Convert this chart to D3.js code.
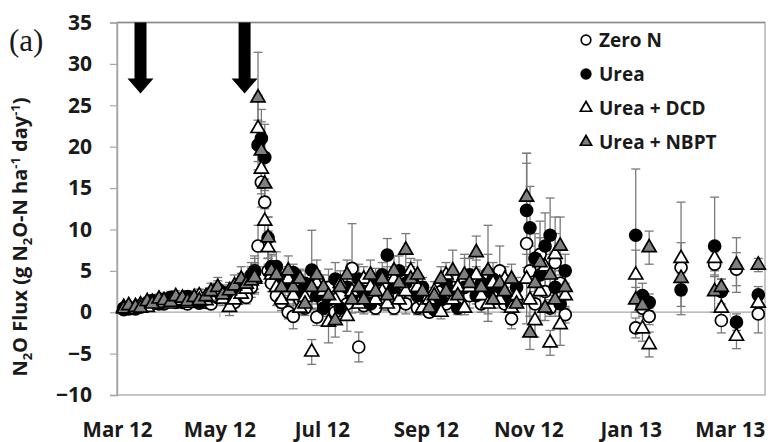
<!DOCTYPE html>
<html><head><meta charset="utf-8">
<script src="https://cdn.jsdelivr.net/npm/d3@7"></script>
<style>body{margin:0;background:#fff} svg{display:block}</style>
</head><body><svg id="c" width="773" height="442"></svg>
<script>
const dates = [
"2012-03-05","2012-03-08","2012-03-12","2012-03-15","2012-03-19","2012-03-22","2012-03-26","2012-03-29","2012-04-02","2012-04-05",
"2012-04-09","2012-04-12","2012-04-16","2012-04-19","2012-04-23","2012-04-26","2012-04-30","2012-05-03","2012-05-07","2012-05-10",
"2012-05-14","2012-05-17","2012-05-20","2012-05-22","2012-05-24","2012-05-26","2012-05-28","2012-05-30","2012-06-01","2012-06-04",
"2012-06-07","2012-06-11","2012-06-14","2012-06-18","2012-06-21","2012-06-25","2012-06-28","2012-07-02","2012-07-05","2012-07-09",
"2012-07-12","2012-07-16","2012-07-19","2012-07-23","2012-07-26","2012-07-30","2012-08-02","2012-08-06","2012-08-09","2012-08-13",
"2012-08-16","2012-08-20","2012-08-23","2012-08-27","2012-08-30","2012-09-03","2012-09-06","2012-09-10","2012-09-13","2012-09-17",
"2012-09-20","2012-09-24","2012-09-27","2012-10-01","2012-10-04","2012-10-08","2012-10-11","2012-10-15","2012-10-18","2012-10-22",
"2012-10-25","2012-10-31","2012-11-02","2012-11-05","2012-11-08","2012-11-11","2012-11-14","2012-11-17","2012-11-20","2012-11-23",
"2013-01-04","2013-01-08","2013-01-12","2013-01-31","2013-02-20","2013-02-24","2013-03-05","2013-03-18"];

const zeroN = [
0.3,0.4,0.5,0.6,0.8,1.0,1.2,1.0,1.3,1.5,
1.2,1.0,1.4,1.6,1.2,1.0,1.8,2.0,1.5,1.2,
2.5,1.8,3.0,5.0,8.0,15.7,13.3,5.0,3.5,2.0,
1.2,0.0,-0.5,1.5,0.5,2.5,-0.6,1.0,3.0,0.0,
2.0,1.0,5.3,-4.2,0.8,2.5,0.5,1.5,3.5,0.5,
2.0,1.0,3.0,0.5,1.5,0.0,0.8,2.5,1.0,3.0,
1.5,4.0,2.0,3.5,1.0,4.7,2.5,5.0,1.0,-0.8,
1.5,8.3,5.0,1.0,7.0,2.5,0.5,6.0,3.5,-0.3,
-1.9,0.5,-0.5,5.4,5.8,-1.0,5.2,-0.2];
const urea = [
0.5,0.6,0.4,0.8,1.1,1.4,1.0,1.6,1.8,1.2,
1.5,1.9,1.3,1.1,1.6,2.2,2.8,2.4,1.9,2.6,
3.5,3.0,4.5,4.8,20.2,21.0,18.7,9.0,5.5,5.5,
4.0,3.5,4.8,2.5,3.5,5.1,2.0,0.5,1.5,4.0,
0.5,3.0,2.0,4.0,2.5,1.0,3.8,4.5,6.9,3.0,
5.0,3.5,4.5,2.0,3.0,1.0,0.3,1.5,3.5,2.5,
0.5,3.0,4.5,2.0,3.5,2.5,4.0,3.0,2.0,1.0,
3.0,12.3,10.2,6.5,4.5,8.0,9.3,3.0,1.0,5.0,
9.3,2.0,1.2,2.7,8.0,2.5,-1.2,2.1];
const ureaDCD = [
0.6,0.3,0.7,0.9,0.6,1.2,1.5,1.1,1.0,1.7,
1.4,1.1,1.6,2.0,1.4,1.8,2.4,1.6,0.6,1.5,
2.2,2.8,4.0,4.0,22.2,17.3,11.0,7.8,4.5,3.0,
1.5,4.0,2.0,0.5,1.8,-4.8,3.5,2.5,-1.2,1.5,
3.5,-0.5,2.5,1.0,4.0,3.0,1.5,2.5,1.0,4.0,
1.5,2.5,5.0,3.0,0.5,1.5,2.5,0.0,4.5,1.5,
3.0,0.5,3.0,4.5,2.0,1.0,3.5,1.5,4.0,0.5,
2.0,4.0,1.5,-1.0,2.5,5.5,-3.7,7.0,-1.5,2.0,
4.5,-2.0,-3.9,6.5,6.5,0.5,-2.9,1.1];
const ureaNBPT = [
0.4,0.8,0.6,0.5,1.3,1.0,1.6,1.4,1.2,1.9,
1.7,1.3,1.8,1.4,1.9,2.5,3.0,2.1,2.6,3.2,
4.0,3.4,3.8,4.2,25.9,19.5,15.5,9.0,5.0,4.5,
3.0,5.0,3.0,4.0,1.0,3.0,4.5,3.0,2.0,-1.0,
3.0,4.5,1.5,3.0,1.5,4.5,2.5,4.0,2.0,5.0,
3.5,7.5,4.0,4.5,2.5,0.5,2.0,4.0,2.5,5.0,
2.0,4.5,3.5,7.2,3.0,5.0,1.5,3.5,2.5,4.0,
1.0,13.9,-2.5,3.5,6.0,0.5,4.5,1.5,8.0,3.0,
1.5,0.8,7.8,4.1,2.5,3.0,5.7,5.7];

const zeroNErr = [
0.2,0.3,0.3,0.4,0.5,0.4,0.6,0.5,0.4,0.6,
0.5,0.4,0.6,0.7,0.5,0.4,0.8,0.9,0.6,0.5,
1.0,0.8,1.2,1.5,2.5,3.0,2.8,1.5,1.0,1.2,
1.0,0.8,1.5,1.2,0.9,2.0,1.0,1.5,2.2,1.0,
1.2,1.0,5.4,1.8,1.0,1.5,0.8,1.2,2.0,0.8,
1.0,1.2,1.5,0.8,1.0,0.6,0.8,1.5,1.0,2.0,
1.2,2.5,1.5,2.0,1.0,5.8,1.5,3.0,1.0,1.2,
1.0,9.7,3.0,1.5,4.0,2.0,1.0,3.5,2.0,1.0,
1.2,1.0,1.0,3.0,1.5,1.5,2.0,2.3];
const ureaErr = [
0.3,0.3,0.2,0.4,0.5,0.6,0.4,0.6,0.7,0.5,
0.6,0.7,0.5,0.4,0.6,0.8,1.0,0.9,0.7,1.0,
1.2,1.0,1.5,2.0,3.0,3.5,4.0,2.5,1.5,1.8,
1.2,1.5,1.0,2.0,1.5,4.8,1.0,0.8,1.5,2.0,
1.0,1.5,1.2,1.8,1.0,0.8,1.5,1.5,2.0,1.2,
1.8,1.2,1.5,1.0,1.2,0.8,0.6,1.0,1.5,1.2,
0.8,1.5,2.0,1.0,1.5,1.2,2.0,1.5,1.0,0.8,
1.2,6.9,5.0,3.0,2.5,4.0,4.5,2.0,1.5,2.0,
8.0,1.5,1.0,2.0,5.9,1.5,1.0,1.0];
const ureaDCDErr = [
0.3,0.2,0.4,0.4,0.3,0.5,0.6,0.5,0.4,0.7,
0.6,0.5,0.7,0.8,0.6,0.7,1.0,0.8,1.0,0.8,
1.0,1.2,1.5,1.8,4.0,3.0,2.5,2.0,1.5,1.0,
1.0,1.5,1.2,0.8,1.0,1.5,1.5,1.2,2.5,1.2,
1.5,1.8,1.2,1.0,1.5,1.2,1.0,1.2,0.8,1.5,
1.0,1.2,1.5,1.2,0.8,1.0,1.2,0.8,1.5,1.0,
1.5,0.8,1.2,1.8,1.0,1.2,1.5,1.0,1.5,0.8,
1.0,3.0,2.0,2.0,3.5,3.0,1.5,4.5,2.5,1.5,
3.0,1.5,1.5,6.8,2.0,1.5,1.5,1.0];
const ureaNBPTErr = [
0.3,0.4,0.3,0.3,0.5,0.4,0.6,0.5,0.5,0.7,
0.6,0.5,0.7,0.6,0.8,1.0,1.2,0.9,1.0,1.3,
1.5,1.2,1.5,1.8,5.5,3.5,3.0,2.5,1.8,1.5,
1.2,1.8,1.5,1.2,1.0,1.5,1.8,1.5,1.2,2.0,
1.5,1.8,1.0,1.5,1.2,1.8,1.5,1.2,1.0,1.8,
1.5,2.0,1.5,1.8,1.2,0.8,1.0,1.5,1.2,2.5,
1.0,2.5,1.5,2.0,1.2,2.0,1.0,1.5,1.2,1.8,
1.0,5.3,2.0,2.5,3.0,1.5,2.5,2.0,3.5,1.5,
1.5,1.0,2.0,2.0,2.5,1.0,3.3,0.8];

const seriesNames = ["Zero N", "Urea", "Urea + DCD", "Urea + NBPT"];
const yTicks = [-10, -5, 0, 5, 10, 15, 20, 25, 30, 35];
const xTickDates = ["2012-03-01","2012-05-01","2012-07-01","2012-09-01","2012-11-01","2013-01-01","2013-03-01"];
const xTickLabels = ["Mar 12","May 12","Jul 12","Sep 12","Nov 12","Jan 13","Mar 13"];
const applicationDates = ["2012-03-15","2012-05-16"];

const parse = d3.timeParse("%Y-%m-%d");
const svg = d3.select("#c");
const L = 117, R = 765, T = 22.5, B = 395;
const x = d3.scaleTime().domain([parse("2012-03-01"), parse("2013-03-22")]).range([L, R]);
const y = d3.scaleLinear().domain([-10, 35]).range([B, T]);
const FONT = "'Open Sans', 'DejaVu Sans', sans-serif";
const INK = "#1a1a1a";

// plot frame
svg.append("rect").attr("x", L).attr("y", T).attr("width", R - L).attr("height", B - T)
  .attr("fill", "none").attr("stroke", "#b3b3b3").attr("stroke-width", 1.5);
svg.append("line").attr("x1", L).attr("x2", R).attr("y1", T).attr("y2", T)
  .attr("stroke", "#8c8c8c").attr("stroke-width", 1.5);

// y axis
const yAxis = svg.append("g").attr("transform", `translate(${L},0)`)
  .call(d3.axisLeft(y).tickValues(yTicks).tickSize(7).tickPadding(18).tickFormat(d3.format("d")));
yAxis.select(".domain").attr("stroke", "#a6a6a6").attr("stroke-width", 1.5);
yAxis.selectAll(".tick line").attr("stroke", "#a6a6a6").attr("stroke-width", 1.2);
yAxis.selectAll("text").attr("font-family", FONT).attr("font-weight", "bold")
  .attr("font-size", 21).attr("fill", INK);

// zero line (x axis crossing at 0)
const zAxis = svg.append("g").attr("transform", `translate(0,${y(0)})`)
  .call(d3.axisBottom(x).tickValues(xTickDates.map(parse)).tickSize(5).tickFormat(""));
zAxis.select(".domain").attr("stroke", "#a6a6a6").attr("stroke-width", 1.3).attr("d", `M${L},0H${R}`);
zAxis.selectAll(".tick line").attr("stroke", "#a6a6a6");

// bottom labels
const xAxis = svg.append("g").attr("transform", `translate(0,${B})`)
  .call(d3.axisBottom(x).tickValues(xTickDates.map(parse)).tickSize(0).tickPadding(27)
    .tickFormat((d, i) => xTickLabels[i]));
xAxis.select(".domain").remove();
xAxis.selectAll("text").attr("font-family", FONT).attr("font-weight", "bold")
  .attr("font-size", 20.5).attr("fill", INK);

// y title
const yt = svg.append("text").attr("transform", "translate(27,237) rotate(-90)")
  .attr("text-anchor", "middle").attr("font-family", FONT).attr("font-weight", "bold")
  .attr("font-size", 20).attr("fill", INK);
const parts = [["N",0],["2",1],["O Flux (g N",0],["2",1],["O-N ha",0],["-1",2],[" day",0],["-1",2],[")",0]];
let shift = 0;
parts.forEach(([t, k]) => {
  const target = k === 1 ? 5 : k === 2 ? -7 : 0;
  yt.append("tspan").attr("dy", target - shift).attr("font-size", k ? 13 : 20).text(t);
  shift = target;
});

// (a)
svg.append("text").attr("x", 9).attr("y", 51).attr("font-family", "'Liberation Serif', serif")
  .attr("font-size", 31).attr("fill", INK).text("(a)");

// application arrows
applicationDates.forEach(d => {
  const cx = x(parse(d));
  svg.append("path").attr("fill", "#000")
    .attr("d", `M${cx-6},${T} L${cx+6},${T} L${cx+6},${T+56} L${cx+13},${T+56} L${cx},${T+71} L${cx-13},${T+56} L${cx-6},${T+56} Z`);
});

const series = [
  {name: seriesNames[0], vals: zeroN, err: zeroNErr, shape: "circle", fill: "#fff"},
  {name: seriesNames[1], vals: urea, err: ureaErr, shape: "circle", fill: "#000"},
  {name: seriesNames[2], vals: ureaDCD, err: ureaDCDErr, shape: "triangle", fill: "#fff"},
  {name: seriesNames[3], vals: ureaNBPT, err: ureaNBPTErr, shape: "triangle", fill: "#808080"}
];

// error bars
const eg = svg.append("g").attr("stroke", "#7a7a7a").attr("stroke-width", 1.3);
series.forEach(s => {
  s.vals.forEach((v, i) => {
    const cx = x(parse(dates[i])), e = s.err[i];
    const y1 = y(v + e), y2 = y(v - e);
    eg.append("line").attr("x1", cx).attr("x2", cx).attr("y1", y1).attr("y2", y2);
    eg.append("line").attr("x1", cx - 4.5).attr("x2", cx + 4.5).attr("y1", y1).attr("y2", y1);
    eg.append("line").attr("x1", cx - 4.5).attr("x2", cx + 4.5).attr("y1", y2).attr("y2", y2);
  });
});

const tri = d3.symbol().type(d3.symbolTriangle);
function marker(g, s, cx, cy, scale) {
  if (s.shape === "circle") {
    g.append("circle").attr("cx", cx).attr("cy", cy).attr("r", 6 * scale)
      .attr("fill", s.fill).attr("stroke", "#000").attr("stroke-width", 1.7);
  } else {
    g.append("path").attr("d", tri.size(85 * scale * scale)())
      .attr("transform", `translate(${cx},${cy})`)
      .attr("fill", s.fill).attr("stroke", "#000").attr("stroke-width", 1.7);
  }
}
const mg = svg.append("g");
series.forEach(s => {
  s.vals.forEach((v, i) => marker(mg, s, x(parse(dates[i])), y(v), 1));
});

// legend
const lg = svg.append("g");
series.forEach((s, i) => {
  const cy = 40 + i * 34;
  marker(lg, s, 586, cy, 0.8);
  lg.append("text").attr("x", 599).attr("y", cy).attr("dy", "0.35em")
    .attr("font-family", FONT).attr("font-weight", "bold").attr("font-size", 19)
    .attr("fill", INK).text(s.name);
});
</script></body></html>
